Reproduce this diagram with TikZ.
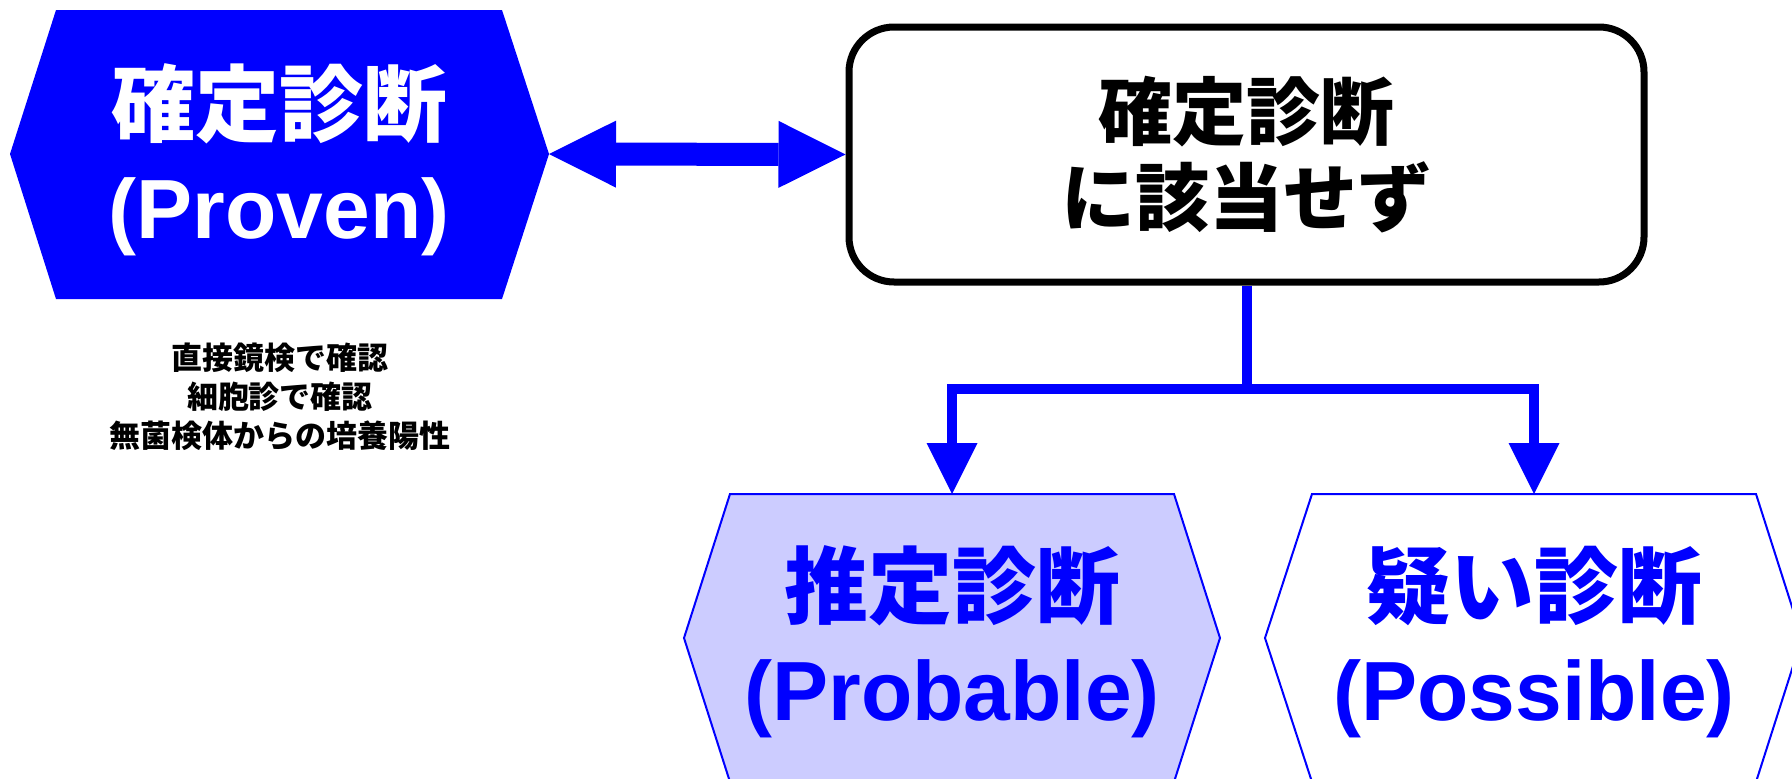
\documentclass[tikz,border=0pt]{standalone}
\usepackage{fontspec}
\setmainfont{Liberation Sans}
\newfontfamily\jp{Noto Sans CJK JP}
\usetikzlibrary{arrows.meta}
\definecolor{lav}{HTML}{CCCCFF}
\definecolor{pblue}{HTML}{0000FF}
\begin{document}
\begin{tikzpicture}[x=1pt,y=-1pt,
  hexblue/.style={fill=pblue,draw=none},
  hexlav/.style={fill=lav,draw=pblue,line width=2pt},
  hexwhite/.style={fill=white,draw=pblue,line width=2pt},
  bigtxt/.style={align=center,inner sep=0pt,font=\fontsize{84pt}{103pt}\selectfont\bfseries},
  decision/.style={draw=black,line width=7pt,rounded corners=45pt,minimum width=795pt,minimum height=255pt,inner sep=0pt,align=center,font=\fontsize{74pt}{86pt}\selectfont\jp\bfseries},
  smalltxt/.style={align=center,inner sep=0pt,font=\fontsize{31pt}{39pt}\selectfont\jp\bfseries},
  bigarrow/.style={draw=pblue,line width=23pt,{Triangle[length=67pt,width=67pt,line width=0pt]}-{Triangle[length=67pt,width=67pt,line width=0pt]}},
  conn/.style={draw=pblue,line width=10pt},
  connarrow/.style={conn,-{Triangle[length=51pt,width=51pt,line width=0pt]}}
]
\useasboundingbox (0,0) rectangle (1792,779);
% hexagons
\path[hexblue] (10,154) -- (56,10) -- (502,10) -- (549,154) -- (502,299) -- (56,299) -- cycle;
\path[hexlav] (684,638) -- (730,494) -- (1174,494) -- (1220,638) -- (1174,782) -- (730,782) -- cycle;
\path[hexwhite] (1265,638) -- (1312,494) -- (1756,494) -- (1802,638) -- (1756,782) -- (1312,782) -- cycle;
\coordinate (provenE) at (549,154);
\coordinate (probN) at (952,494);
\coordinate (possN) at (1534,494);
% texts
\node[bigtxt,text=white] (proven) at (279,160) {{\jp 確定診断}\\(Proven)};
\node[bigtxt,text=pblue] (prob) at (952,642) {{\jp 推定診断}\\(Probable)};
\node[bigtxt,text=pblue] (poss) at (1534,642) {{\jp 疑い診断}\\(Possible)};
\node[smalltxt] (crit) at (280,397) {直接鏡検で確認\\細胞診で確認\\無菌検体からの培養陽性};
\node[decision] (notbox) at (1246.5,154.5) {確定診断\\に該当せず};
% connectors
\coordinate (split) at (1246.5,389);
\draw[bigarrow] (provenE) -- (notbox.west);
\draw[conn] (notbox.south) -- (split);
\draw[connarrow] (split) -| (probN);
\draw[connarrow] (split) -| (possN);
\end{tikzpicture}
\end{document}
